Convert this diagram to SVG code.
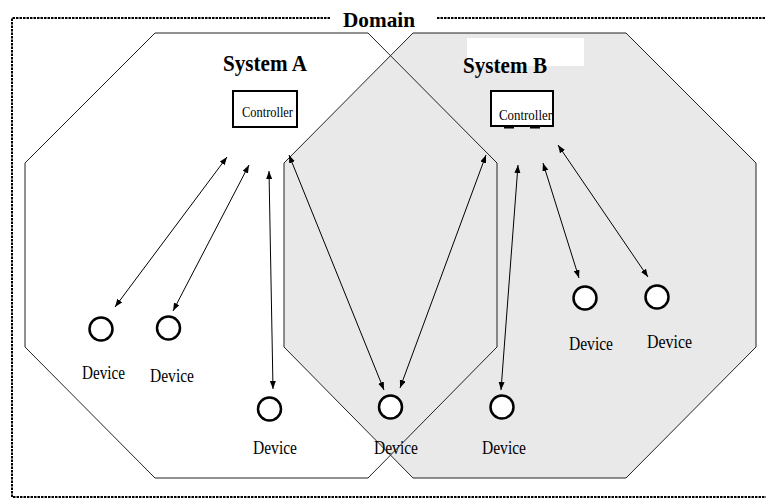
<svg xmlns="http://www.w3.org/2000/svg" width="766" height="500" viewBox="0 0 766 500">
  <style>
    .domain { fill: none; stroke: #000; stroke-width: 2; stroke-dasharray: 2.5 1; }
    .sysA { fill: none; stroke: #222; stroke-width: 1; }
    .sysB { fill: #e9e9e9; stroke: #222; stroke-width: 1; }
    .title { font-family: "Liberation Serif", "Times New Roman", serif; font-weight: bold; fill: #000; }
    .ctrl rect.box { fill: #fff; stroke: #000; stroke-width: 2; }
    .ctrl text { font-family: "Liberation Serif", "Times New Roman", serif; font-size: 15px; fill: #000; }
    .dev circle { fill: #fff; stroke: #000; stroke-width: 2.5; }
    .dev text { font-family: "Liberation Serif", "Times New Roman", serif; font-size: 18px; fill: #000; }
    .link { fill: none; stroke: #000; stroke-width: 1; marker-start: url(#head); marker-end: url(#head); }
  </style>
  <defs>
    <marker id="head" markerUnits="userSpaceOnUse" markerWidth="9" markerHeight="7" refX="8" refY="3" orient="auto-start-reverse" viewBox="0 0 9 7">
      <path d="M0,0 L8,3 L0,6 z" fill="#000"/>
    </marker>
  </defs>

  <rect width="766" height="500" fill="#fff"/>

  <!-- Domain boundary, broken at the title -->
  <g id="domain">
    <path class="domain" d="M330,18 H12 V497 H768 M437,18 H768"/>
    <text class="title" x="343" y="27" font-size="22" textLength="72" lengthAdjust="spacingAndGlyphs">Domain</text>
  </g>

  <!-- System B region (shaded) -->
  <g id="systemB">
    <polygon class="sysB" points="413,33 626,33 756,163 756,347 626,478 413,478 284,347 284,163"/>
    <rect x="467" y="38" width="117" height="28" fill="#fff"/>
    <text class="title" x="463" y="73" font-size="23" textLength="84" lengthAdjust="spacingAndGlyphs">System B</text>
  </g>

  <!-- System A region (outline only) -->
  <g id="systemA">
    <polygon class="sysA" points="155,33 368,33 497,163 497,347 368,478 155,478 25,347 25,163"/>
    <text class="title" x="223" y="71" font-size="23" textLength="84" lengthAdjust="spacingAndGlyphs">System A</text>
  </g>

  <!-- Controllers -->
  <g id="controllerA" class="ctrl">
    <rect class="box" x="233" y="91" width="64" height="36"/>
    <text x="242" y="117" textLength="51" lengthAdjust="spacingAndGlyphs">Controller</text>
  </g>
  <g id="controllerB" class="ctrl">
    <rect class="box" x="491" y="91" width="62" height="35"/>
    <text x="499" y="120" textLength="53" lengthAdjust="spacingAndGlyphs">Controller</text>
    <rect x="504" y="126" width="10" height="2.5" fill="#000"/>
    <rect x="530" y="126" width="10" height="2.5" fill="#000"/>
  </g>

  <!-- Connectors -->
  <g id="connectors">
    <line class="link" x1="227" y1="157" x2="115" y2="307"/>
    <line class="link" x1="249" y1="165" x2="173" y2="311"/>
    <line class="link" x1="269" y1="171" x2="273" y2="389"/>
    <line class="link" x1="289" y1="155" x2="384" y2="390"/>
    <line class="link" x1="486" y1="155" x2="400" y2="388"/>
    <line class="link" x1="518" y1="165" x2="501" y2="390"/>
    <line class="link" x1="543" y1="163" x2="579" y2="278"/>
    <line class="link" x1="558" y1="145" x2="648" y2="277"/>
  </g>

  <!-- Devices -->
  <g id="device1" class="dev">
    <circle cx="101" cy="329" r="11.5"/>
    <text x="82" y="379" textLength="43" lengthAdjust="spacingAndGlyphs">Device</text>
  </g>
  <g id="device2" class="dev">
    <circle cx="168.5" cy="328" r="11.5"/>
    <text x="150" y="382" textLength="44" lengthAdjust="spacingAndGlyphs">Device</text>
  </g>
  <g id="device3" class="dev">
    <circle cx="269.5" cy="409" r="11.5"/>
    <text x="253" y="454" textLength="44" lengthAdjust="spacingAndGlyphs">Device</text>
  </g>
  <g id="device4" class="dev">
    <circle cx="390.5" cy="407" r="11.5"/>
    <text x="374" y="454" textLength="44" lengthAdjust="spacingAndGlyphs">Device</text>
  </g>
  <g id="device5" class="dev">
    <circle cx="502" cy="407" r="11.5"/>
    <text x="482" y="454" textLength="44" lengthAdjust="spacingAndGlyphs">Device</text>
  </g>
  <g id="device6" class="dev">
    <circle cx="585" cy="298" r="11.5"/>
    <text x="569" y="350" textLength="44" lengthAdjust="spacingAndGlyphs">Device</text>
  </g>
  <g id="device7" class="dev">
    <circle cx="657" cy="297" r="11.5"/>
    <text x="647" y="348" textLength="45" lengthAdjust="spacingAndGlyphs">Device</text>
  </g>
</svg>
